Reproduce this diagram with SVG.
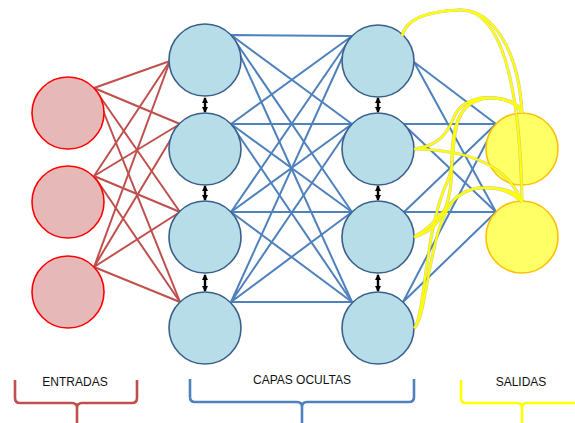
<svg xmlns="http://www.w3.org/2000/svg" width="575" height="423" viewBox="0 0 575 423">
<defs>
<marker id="ah" viewBox="0 0 6 6" refX="5" refY="3" markerWidth="6.5" markerHeight="6.5" markerUnits="userSpaceOnUse" orient="auto-start-reverse"><path d="M0,0 L6,3 L0,6 z" fill="#000"/></marker>
</defs>
<style>
.red{stroke:#C0504D;stroke-width:2;fill:none}
.blue{stroke:#4F81BD;stroke-width:2;fill:none}
.ys{stroke:#B5B56A;stroke-width:3.2;fill:none;opacity:0.6}
.y{stroke:#FFFF00;stroke-width:2;fill:none}
.arr{stroke:#000;stroke-width:2.4;marker-start:url(#ah);marker-end:url(#ah)}
.in{fill:#E6B9B8;stroke:#FF0000;stroke-width:1.6}
.hid{fill:#B7DEE8;stroke:#3A5F8C;stroke-width:1.6}
.out{fill:#FFFF66;stroke:#FFC000;stroke-width:1.6}
.lbl{font-family:"Liberation Sans",Arial,sans-serif;font-size:12px;fill:#111;text-anchor:middle}
.brace{fill:none;stroke-width:2.6;stroke-linejoin:round}
</style>
<g id="connectors">
<g id="in-h1">
<path class="red" d="M94,88 L170,61 M94,88 L180,124 M94,88 L180,212 M94,88 L180,302"/>
<path class="red" d="M94,176 L170,61 M94,176 L180,124 M94,176 L180,212 M94,176 L180,302"/>
<path class="red" d="M94,267 L170,61 M94,267 L180,124 M94,267 L180,212 M94,267 L180,302"/>
</g>
<g id="h1-h2">
<path class="blue" d="M231,35 L352,36 M231,35 L352,124 M231,35 L352,212 M231,35 L352,302"/>
<path class="blue" d="M231,124 L352,36 M231,124 L352,124 M231,124 L352,212 M231,124 L352,302"/>
<path class="blue" d="M231,212 L352,36 M231,212 L352,124 M231,212 L352,212 M231,212 L352,302"/>
<path class="blue" d="M231,302 L352,36 M231,302 L352,124 M231,302 L352,212 M231,302 L352,302"/>
</g>
<g id="h2-out">
<path class="blue" d="M414,62 L496,124 M414,62 L496,212"/>
<path class="blue" d="M403,124 L496,124 M403,124 L496,212"/>
<path class="blue" d="M404,212 L496,212 M404,212 L496,124"/>
<path class="blue" d="M403,302 L496,124 M403,302 L496,212"/>
</g>
<g id="arrows">
<line class="arr" x1="205" y1="98" x2="205" y2="112"/>
<line class="arr" x1="205" y1="186" x2="205" y2="200"/>
<line class="arr" x1="205" y1="275" x2="205" y2="291"/>
<line class="arr" x1="378" y1="98" x2="378" y2="112"/>
<line class="arr" x1="378" y1="186" x2="378" y2="200"/>
<line class="arr" x1="378" y1="275" x2="378" y2="291"/>
</g>
</g>
<g id="input-1"><circle class="in" cx="68" cy="113" r="36"/></g>
<g id="input-2"><circle class="in" cx="68" cy="202" r="36"/></g>
<g id="input-3"><circle class="in" cx="68" cy="292" r="36"/></g>
<g id="hidden1-1"><circle class="hid" cx="205" cy="60" r="36"/></g>
<g id="hidden1-2"><circle class="hid" cx="205" cy="149" r="36"/></g>
<g id="hidden1-3"><circle class="hid" cx="205" cy="237" r="36"/></g>
<g id="hidden1-4"><circle class="hid" cx="205" cy="328" r="36"/></g>
<g id="hidden2-1"><circle class="hid" cx="378" cy="61" r="36"/></g>
<g id="hidden2-2"><circle class="hid" cx="378" cy="149" r="36"/></g>
<g id="hidden2-3"><circle class="hid" cx="378" cy="237" r="36"/></g>
<g id="hidden2-4"><circle class="hid" cx="378" cy="328" r="36"/></g>
<g id="output-1"><circle class="out" cx="522" cy="149" r="36"/></g>
<g id="output-2"><circle class="out" cx="522" cy="237" r="36"/></g>
<g id="yellow-connectors">
<g id="ycurves-shadow" class="ys">
<path d="M402,36 C406,18 430,11 460,10 C492,9 519,50 522,113"/>
<path d="M402,36 C406,18 430,11 460,10 C500,9 520,80 522,202"/>
<path d="M414,149 C440,146 448,132 455,115 C462,100 480,97 495,98 C510,99 520,105 522,113"/>
<path d="M414,149 C460,150 505,160 522,202"/>
<path d="M414,237 C445,228 452,200 452,160 C452,120 462,100 490,98 C508,98 519,105 522,113"/>
<path d="M414,237 C440,225 450,190 480,188 C505,187 518,192 522,202"/>
<path d="M414,328 C425,320 424,230 448,180 C458,160 445,110 480,98 C502,96 518,103 522,113"/>
<path d="M414,328 C428,318 428,220 458,196 C475,183 505,185 522,202"/>
</g>
<g id="ycurves" class="y">
<path d="M402,36 C406,18 430,11 460,10 C492,9 519,50 522,113"/>
<path d="M402,36 C406,18 430,11 460,10 C500,9 520,80 522,202"/>
<path d="M414,149 C440,146 448,132 455,115 C462,100 480,97 495,98 C510,99 520,105 522,113"/>
<path d="M414,149 C460,150 505,160 522,202"/>
<path d="M414,237 C445,228 452,200 452,160 C452,120 462,100 490,98 C508,98 519,105 522,113"/>
<path d="M414,237 C440,225 450,190 480,188 C505,187 518,192 522,202"/>
<path d="M414,328 C425,320 424,230 448,180 C458,160 445,110 480,98 C502,96 518,103 522,113"/>
<path d="M414,328 C428,318 428,220 458,196 C475,183 505,185 522,202"/>
</g>
</g>
<g id="brace-entradas">
<path class="brace" stroke="#C0504D" d="M15,380 L15,398 Q15,403 20,403 L72,403 Q77,403 77,408 L77,423 M77,408 Q77,403 82,403 L132,403 Q137,403 137,398 L137,380"/>
<text class="lbl" x="75" y="386">ENTRADAS</text>
</g>
<g id="brace-capas">
<path class="brace" stroke="#4F81BD" d="M190,379 L190,397 Q190,402 195,402 L297,402 Q302,402 302,407 L302,423 M302,407 Q302,402 307,402 L409,402 Q414,402 414,397 L414,379"/>
<text class="lbl" x="302" y="384">CAPAS OCULTAS</text>
</g>
<g id="brace-salidas">
<path class="brace" stroke="#FFFF00" d="M461,380 L461,398 Q461,403 466,403 L517,403 Q522,403 522,408 L522,423 M522,408 Q522,403 527,403 L577,403"/>
<text class="lbl" x="521" y="386">SALIDAS</text>
</g>
</svg>
